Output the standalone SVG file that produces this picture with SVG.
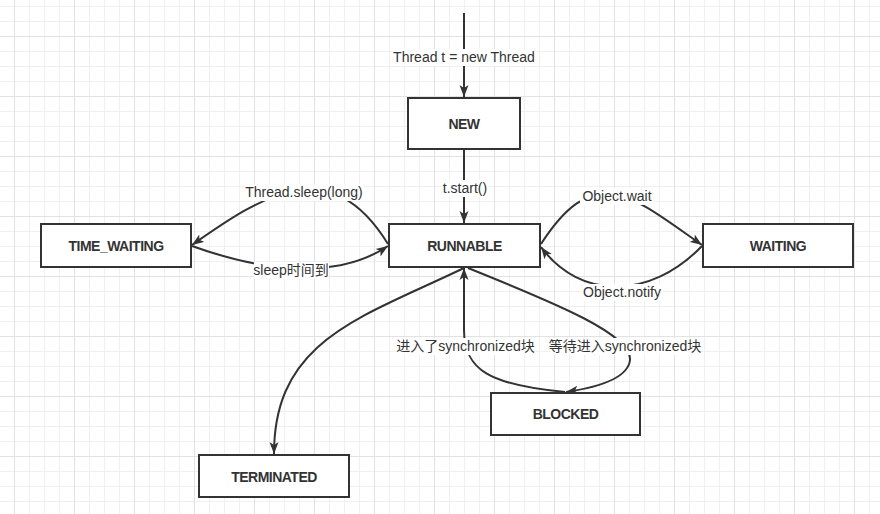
<svg xmlns="http://www.w3.org/2000/svg" width="880" height="514" viewBox="0 0 880 514">
<defs>
<pattern id="minor" x="14" y="6" width="15" height="15" patternUnits="userSpaceOnUse"><path d="M0.5 0V15M0 0.5H15" stroke="#f0f0f0" fill="none"/></pattern>
<pattern id="major" x="14" y="36" width="60" height="60" patternUnits="userSpaceOnUse"><path d="M0.5 0V60M0 0.5H60" stroke="#e2e2e2" fill="none"/></pattern>
<marker id="arr" markerUnits="userSpaceOnUse" markerWidth="12" markerHeight="10" refX="12" refY="5" orient="auto" viewBox="0 0 12 10"><path d="M12,5 L0,0.5 L3,5 L0,9.5 Z" fill="#333"/></marker>
<style>
.box{fill:#fff;stroke:#333;stroke-width:2}
.bt{font-family:"Liberation Sans",Arial,sans-serif;font-weight:bold;font-size:14px;letter-spacing:-0.5px;fill:#333;text-anchor:middle}
.edge{fill:none;stroke:#333;stroke-width:2;marker-end:url(#arr)}
.edge2{fill:none;stroke:#333;stroke-width:2}
.lb{font-family:"Liberation Sans","Noto Sans CJK SC",sans-serif;font-size:14px;fill:#333;text-anchor:middle}
.bg{fill:#fff}
</style>
</defs>
<rect width="880" height="514" fill="#fff"/>
<rect width="880" height="514" fill="url(#minor)"/>
<rect width="880" height="514" fill="url(#major)"/>

<g id="connectors">
<path class="edge" d="M464,13 V97"/>
<path class="edge" d="M464,150 V223"/>
<path class="edge" d="M388,244 C330,150 262,196 192,245"/>
<path class="edge" d="M192,246 C270,274 340,278 388,246"/>
<path class="edge" d="M541,244 C595,160 632,196 702,245"/>
<path class="edge" d="M702,246 C650,300 580,300 541,247"/>
<path class="edge" d="M464,268 C360,318 274,340 274,454"/>
<path class="edge2" d="M565,392 C490,385 464,370 464,330"/>
<path class="edge" d="M464,330 L464,268"/>
<path class="edge" d="M468,268 C560,305 632,335 630,360 C628,378 600,387 566,392"/>
</g>

<g id="labels">
<g id="label-new"><rect class="bg" x="393" y="49" width="144" height="17"/><text class="lb" x="464" y="62">Thread t = new Thread</text></g>
<g id="label-start"><rect class="bg" x="441" y="180" width="48" height="17"/><text class="lb" x="465" y="193">t.start()</text></g>
<g id="label-sleep"><rect class="bg" x="245" y="184" width="119" height="17"/><text class="lb" x="304" y="197">Thread.sleep(long)</text></g>
<g id="label-sleepend"><rect class="bg" x="254" y="262" width="75" height="17"/><text class="lb" x="291" y="275">sleep时间到</text></g>
<g id="label-wait"><rect class="bg" x="580" y="188" width="74" height="17"/><text class="lb" x="617" y="200.5">Object.wait</text></g>
<g id="label-notify"><rect class="bg" x="581" y="284" width="82" height="17"/><text class="lb" x="622" y="297">Object.notify</text></g>
<g id="label-in"><rect class="bg" x="396" y="338" width="139" height="17"/><text class="lb" x="465.5" y="351">进入了synchronized块</text></g>
<g id="label-waitin"><rect class="bg" x="550" y="338" width="150" height="17"/><text class="lb" x="625" y="351">等待进入synchronized块</text></g>
</g>

<g id="node-new"><rect class="box" x="408" y="98" width="112" height="51"/><text class="bt" x="464" y="129">NEW</text></g>
<g id="node-runnable"><rect class="box" x="389" y="224" width="151" height="43"/><text class="bt" x="464.5" y="250.5">RUNNABLE</text></g>
<g id="node-time-waiting"><rect class="box" x="41" y="224" width="150" height="43"/><text class="bt" x="116" y="250.5">TIME_WAITING</text></g>
<g id="node-waiting"><rect class="box" x="703" y="224" width="150" height="43"/><text class="bt" x="778" y="250.5">WAITING</text></g>
<g id="node-blocked"><rect class="box" x="491" y="393" width="149" height="42"/><text class="bt" x="565.5" y="419">BLOCKED</text></g>
<g id="node-terminated"><rect class="box" x="199" y="455" width="150" height="42"/><text class="bt" x="274" y="481.5">TERMINATED</text></g>
</svg>
